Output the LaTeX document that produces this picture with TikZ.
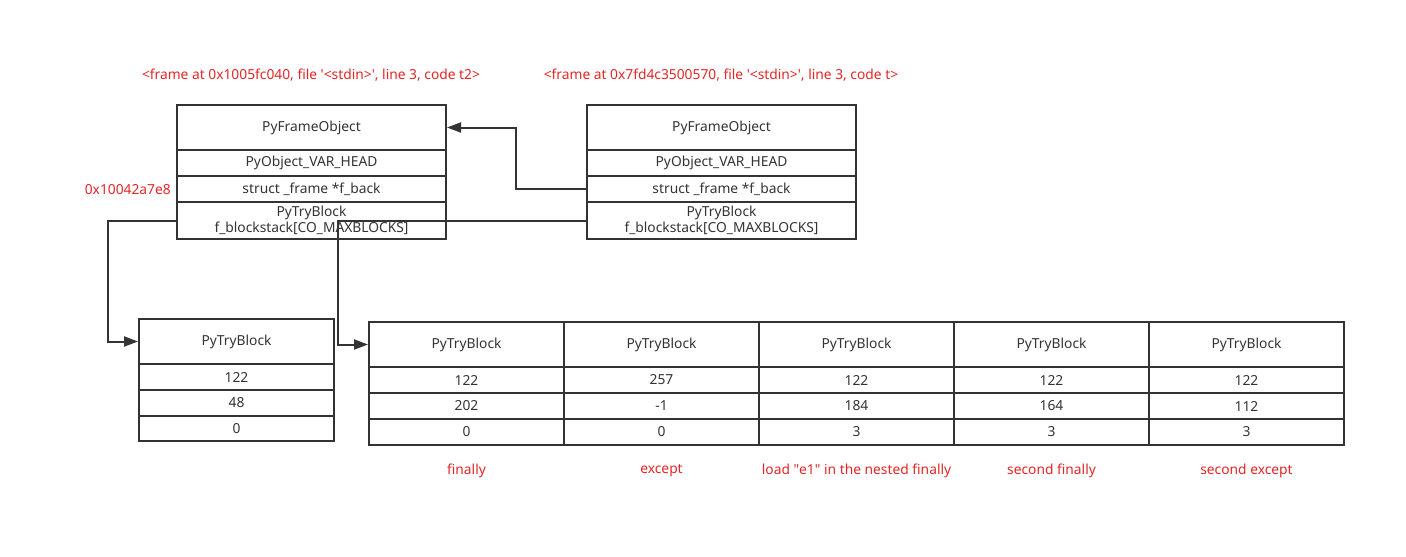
\documentclass[tikz,border=0pt]{standalone}
\usepackage{fontspec}
\setmainfont{Noto Sans}
\usetikzlibrary{arrows.meta}
\definecolor{lc}{RGB}{51,51,51}
\definecolor{rc}{RGB}{228,38,38}
\begin{document}
\begin{tikzpicture}[x=1pt,y=-1pt,
  cell/.style={draw=lc,line width=2pt,rectangle,inner sep=0pt,text=lc,font=\fontsize{13.8}{16}\selectfont,align=center},
  fw/.style={cell,minimum width=269pt},
  sw/.style={cell,minimum width=195pt},
  redlbl/.style={text=rc,inner sep=0pt,font=\fontsize{13.8}{16}\selectfont},
  conn/.style={draw=lc,line width=2pt},
  arr/.style={conn,-{Triangle[length=14pt,width=10pt]}}]
\useasboundingbox (0,0) rectangle (1406,557);
% left frame
\node[fw,minimum height=45pt] (lhead) at (311.5,127.5) {PyFrameObject};
\node[fw,minimum height=26pt] (lvar) at (311.5,163) {PyObject\_VAR\_HEAD};
\node[fw,minimum height=26pt] (lback) at (311.5,189) {struct \_frame *f\_back};
\node[fw,minimum height=37pt] (lblk) at (311.5,220.5) {PyTryBlock\\f\_blockstack[CO\_MAXBLOCKS]};
% right frame
\node[fw,minimum height=45pt] (rhead) at (721.5,127.5) {PyFrameObject};
\node[fw,minimum height=26pt] (rvar) at (721.5,163) {PyObject\_VAR\_HEAD};
\node[fw,minimum height=26pt] (rback) at (721.5,189) {struct \_frame *f\_back};
\node[fw,minimum height=37pt] (rblk) at (721.5,220.5) {PyTryBlock\\f\_blockstack[CO\_MAXBLOCKS]};
% labels
\node[redlbl] (ltitle) at (311,75) {<frame at 0x1005fc040, file \textquotesingle<stdin>\textquotesingle, line 3, code t2>};
\node[redlbl] (rtitle) at (721,75) {<frame at 0x7fd4c3500570, file \textquotesingle<stdin>\textquotesingle, line 3, code t>};
\node[redlbl,anchor=east] (addr) at (171,190) {0x10042a7e8};
% small table
\node[sw,minimum height=45pt] (sh) at (236.5,341.5) {PyTryBlock};
\node[sw,minimum height=26pt] (s1) at (236.5,377) {122};
\node[sw,minimum height=26pt] (s2) at (236.5,403) {48};
\node[sw,minimum height=25pt] (s3) at (236.5,428.5) {0};
% big table
\foreach \i/\a/\b/\c/\lab in {0/122/202/0/finally,1/257/-1/0/except,2/122/184/3/{load \textquotedbl e1\textquotedbl{} in the nested finally},3/122/164/3/second finally,4/122/112/3/second except}{
  \pgfmathsetmacro{\cx}{466.5+195*\i}
  \node[sw,minimum height=45pt] (h\i) at (\cx,344.5) {PyTryBlock};
  \node[sw,minimum height=26pt] (a\i) at (\cx,380) {\a};
  \node[sw,minimum height=26pt] (b\i) at (\cx,406) {\b};
  \node[sw,minimum height=26pt] (c\i) at (\cx,432) {\c};
  \node[redlbl] (l\i) at (\cx,471) {\lab};
}
% connectors
\draw[arr] (rback.west) -- ++(-70,0) |- (lhead.east);
\draw[arr] (rblk.west) -| ([xshift=-30pt]h0.west) -- (h0.west);
\draw[arr] (lblk.west) -| ([xshift=-30pt]sh.west) -- (sh.west);
\end{tikzpicture}
\end{document}
